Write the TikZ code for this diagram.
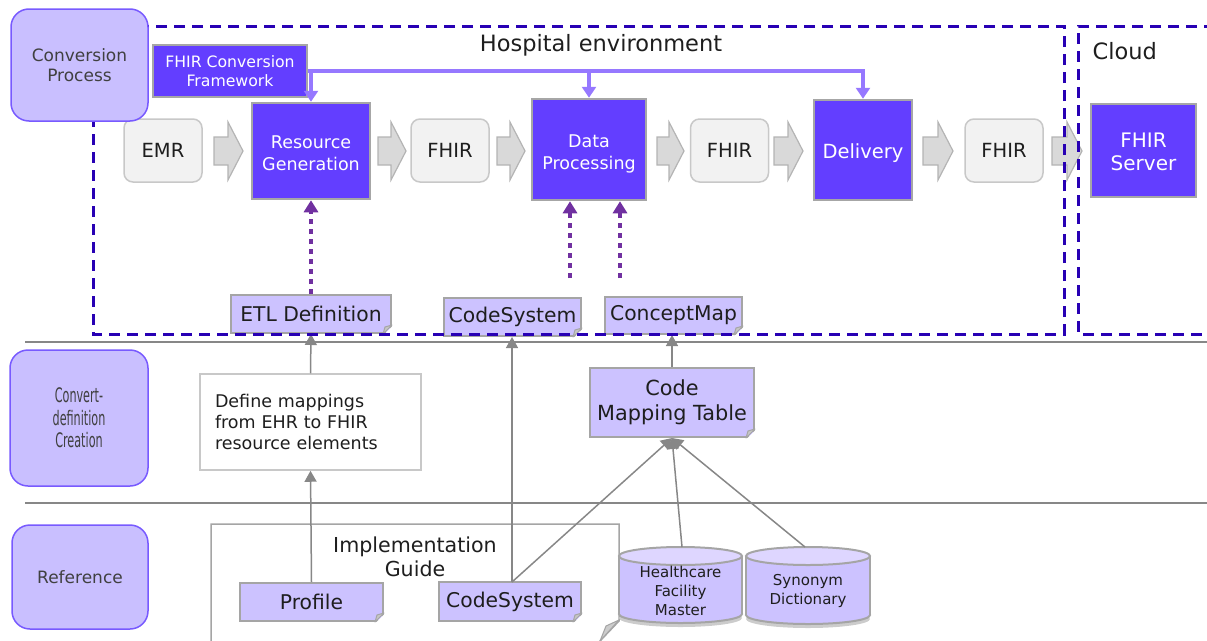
\documentclass[tikz,border=0pt]{standalone}
\usepackage{fontspec}
\setmainfont{DejaVu Sans}
\usepackage{graphicx}
\usetikzlibrary{arrows.meta}
\newcommand\fs[2]{\fontsize{#1}{#2}\selectfont}
\definecolor{lanefill}{RGB}{201,191,255}
\definecolor{lanedraw}{RGB}{120,90,255}
\definecolor{procfill}{RGB}{99,62,255}
\definecolor{procdraw}{RGB}{166,166,166}
\definecolor{notefill}{RGB}{204,194,255}
\definecolor{notedraw}{RGB}{165,165,165}
\definecolor{datafill}{RGB}{242,242,242}
\definecolor{datadraw}{RGB}{200,200,200}
\definecolor{arrfill}{RGB}{217,217,217}
\definecolor{arrdraw}{RGB}{180,180,180}
\definecolor{dashc}{RGB}{40,0,180}
\definecolor{fwc}{RGB}{150,120,255}
\definecolor{dotc}{RGB}{112,48,160}
\definecolor{linec}{RGB}{135,135,135}
\definecolor{txt}{RGB}{30,30,30}
\definecolor{cyltop}{RGB}{222,214,255}
\newcommand\blockarr[2]{%
  \filldraw[fill=arrfill, draw=arrdraw, line width=1.2pt]
    (#1,137) -- ({#2-15},137) -- ({#2-15},122) -- (#2,151) -- ({#2-15},180)
    -- ({#2-15},165) -- (#1,165) -- cycle;}
\newcommand\fold[1]{%
  \fill[white] ([xshift=-9pt,yshift=-1.5pt]#1.south east) -- ([xshift=1.5pt,yshift=-1.5pt]#1.south east)
     -- ([xshift=1.5pt,yshift=9pt]#1.south east) -- cycle;
  \filldraw[fill=gray!45, draw=notedraw, line width=1pt, line join=round]
     ([xshift=-9pt]#1.south east) -- ([yshift=9pt]#1.south east) -- ([xshift=-7pt,yshift=7pt]#1.south east) -- cycle;}
\newcommand\cyl[5]{% cx, top y, bottom y, rx, ry
  \fill[gray!40] (#1,{#3+4}) ellipse [x radius=#4, y radius=#5];
  \filldraw[fill=notefill, draw=notedraw, line width=2pt] (#1,#3) ellipse [x radius=#4, y radius=#5];
  \fill[notefill] ({#1-#4},#2) rectangle ({#1+#4},#3);
  \draw[notedraw, line width=2pt] ({#1-#4},#2) -- ({#1-#4},#3) ({#1+#4},#2) -- ({#1+#4},#3);
  \filldraw[fill=cyltop, draw=notedraw, line width=2pt] (#1,#2) ellipse [x radius=#4, y radius=#5];}
\begin{document}
\begin{tikzpicture}[x=1pt,y=-1pt,
  lane/.style={draw=lanedraw, fill=lanefill, line width=1.5pt, rounded corners=18pt,
    align=center, text=txt!85, font=\fs{17}{20}},
  proc/.style={draw=procdraw, fill=procfill, line width=2.5pt, inner sep=0pt},
  ptext/.style={text=white, align=center, inner sep=0pt},
  datab/.style={draw=datadraw, fill=datafill, line width=1.5pt, rounded corners=9pt,
    text=txt, font=\fs{19.5}{22}, minimum width=78pt, minimum height=63pt},
  notebox/.style={draw=notedraw, fill=notefill, line width=2pt, text=txt, align=center, inner sep=0pt},
  grayarr/.style={draw=linec, line width=1.5pt, -{Triangle[width=12pt,length=11pt]}},
  fwarr/.style={draw=fwc, line width=4.5pt, -{Triangle[width=14pt,length=11pt]}},
  dotarr/.style={draw=dotc, line width=4.5pt, dash pattern=on 5pt off 5pt, -{Triangle[width=14pt,length=12pt]}},
  region/.style={draw=dashc, line width=3pt, dash pattern=on 11pt off 7pt},
  sep/.style={draw=linec, line width=2pt}]
\useasboundingbox (0,0) rectangle (1207,640);

% separators
\draw[sep] (25,342) -- (1207,342);
\draw[sep] (25,503) -- (1207,503);

% implementation guide
\filldraw[fill=white, draw=notedraw, line width=1.5pt]
  (211,660) -- (211,524) -- (619,524) -- (619,621) -- (600,641);
\filldraw[fill=gray!40, draw=notedraw, line width=1pt] (619,620) -- (600,641) -- (606,626) -- cycle;
\node[text=txt, align=center, font=\fs{20.6}{24}] (ig) at (415,557) {Implementation\\Guide};

% block arrows
\blockarr{214}{243}
\blockarr{378}{406}
\blockarr{497}{525}
\blockarr{657}{684}
\blockarr{774}{803}
\blockarr{923}{953}
\blockarr{1052}{1082}

% process row
\node[datab] (emr) at (163,150.5) {\raisebox{-1.5pt}{EMR}};
\node[proc, minimum width=118pt, minimum height=96pt] (rg) at (311,151) {};
\node[ptext, font=\fs{17.5}{21.7}] (rgt) at ([yshift=-2.5pt]rg.center) {Resource\\Generation};
\node[datab] (f1) at (450,150.5) {\raisebox{-1.5pt}{FHIR}};
\node[proc, minimum width=114pt, minimum height=101pt] (dp) at (589,149.5) {};
\node[ptext, font=\fs{17.5}{21.7}] (dpt) at ([yshift=-4.5pt]dp.center) {Data\\Processing};
\node[datab] (f2) at (729.5,150.5) {\raisebox{-1.5pt}{FHIR}};
\node[proc, minimum width=98pt, minimum height=100pt] (dl) at (863,150) {};
\node[ptext, font=\fs{19.5}{23}] (dlt) at ([yshift=-3pt]dl.center) {Delivery};
\node[datab] (f3) at (1004,150.5) {\raisebox{-1.5pt}{FHIR}};
\node[proc, minimum width=105pt, minimum height=93pt] (srv) at (1143.5,150.5) {};
\node[ptext, font=\fs{20}{23}] (srvt) at ([yshift=-1pt]srv.center) {FHIR\\Server};

% framework
\node[proc, minimum width=154pt, minimum height=52pt] (fw) at (230,71) {};
\node[ptext, font=\fs{15.7}{18.5}] (fwt) at (fw.center) {FHIR Conversion\\Framework};
\draw[fwarr] (fw.east) -| (dl.north);
\draw[fwarr] (rg.north |- fw.east) -- (rg.north);
\draw[fwarr] (dp.north |- fw.east) -- (dp.north);

% notes
\node[notebox, minimum width=160pt, minimum height=38pt, font=\fs{20.3}{22}] (etl) at (311,314) {ETL Definition};
\node[notebox, minimum width=137pt, minimum height=38pt, font=\fs{20.3}{22}] (cs1) at (512.5,317) {CodeSystem};
\node[notebox, minimum width=137pt, minimum height=37pt, font=\fs{20.3}{22}] (cm) at (673.5,315.5) {ConceptMap};
\node[draw=datadraw, fill=white, line width=1.5pt, text=txt, align=left, text width=191pt,
  inner xsep=15pt, inner ysep=0pt, minimum height=96pt, font=\fs{17.5}{21}] (def) at (310.5,422)
  {Define mappings\\from EHR to FHIR\\resource elements};
\node[notebox, minimum width=164pt, minimum height=69pt, font=\fs{20.8}{25}] (cmt) at (672,402.5) {Code\\Mapping Table};
\node[notebox, minimum width=143pt, minimum height=38pt, font=\fs{20.3}{22}] (prof) at (311.5,602) {Profile};
\node[notebox, minimum width=142pt, minimum height=39pt, font=\fs{20.3}{22}] (cs2) at (510,601.5) {CodeSystem};
\fold{etl}\fold{cs1}\fold{cm}\fold{cmt}\fold{prof}\fold{cs2}

% cylinders
\cyl{680.5}{556}{614}{61.5}{9}
\cyl{808}{556}{615}{62}{9}
\node[text=txt, align=center, font=\fs{15}{19}] (hfm) at (680.5,591) {Healthcare\\Facility\\Master};
\node[text=txt, align=center, font=\fs{15}{19}] (syn) at (808,590.5) {Synonym\\Dictionary};
\coordinate (hfmtop) at (682,547);
\coordinate (syntop) at (805,547);

% gray connectors
\draw[grayarr] (def.north) -- (etl.south);
\draw[grayarr] (prof.north) -- (def.south);
\coordinate (cs2top) at (512,582);
\draw[grayarr] (cs2top) -- (cs1.south -| cs2top);
\draw[grayarr] (cs2top) -- (cmt.south);
\draw[grayarr] (hfmtop) -- (cmt.south);
\draw[grayarr] (syntop) -- (cmt.south);
\draw[grayarr] (cmt.north) -- (cm.south -| cmt.north);

% dotted connectors
\draw[dotarr] (etl.north) -- (rg.south);
\coordinate (d1) at (570,278);
\coordinate (d2) at (620,278);
\draw[dotarr] (d1) -- (d1 |- dp.south);
\draw[dotarr] (d2) -- (d2 |- dp.south);

% regions
\draw[region] (93,26) rectangle (1064,334);
\draw[region] (1215,26) -- (1078,26) -- (1078,334) -- (1215,334);
\node[text=txt, font=\fs{22.5}{26}] (hosp) at (601,45) {Hospital environment};
\node[text=txt, font=\fs{22.5}{26}, anchor=west] (cloud) at (1089,51) {Cloud};

% lanes
\node[lane, minimum width=137pt, minimum height=112pt] (cp) at (79.5,65) {Conversion\\Process};
\node[lane, minimum width=138pt, minimum height=136pt, font=\fs{20}{22.5}] (cdc) at (79,418)
  {\scalebox{0.56}[1]{Convert-}\\\scalebox{0.56}[1]{definition}\\\scalebox{0.56}[1]{Creation}};
\node[lane, minimum width=136pt, minimum height=104pt] (ref) at (80,577) {Reference};
\end{tikzpicture}
\end{document}
